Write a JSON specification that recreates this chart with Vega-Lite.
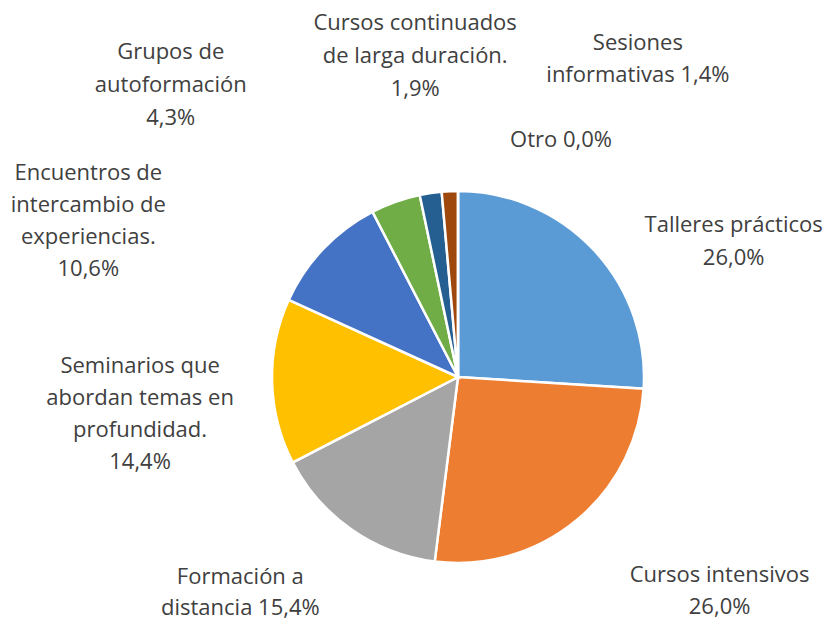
{
  "$schema": "https://vega.github.io/schema/vega-lite/v6.json",
  "autosize": "none",
  "width": 746,
  "height": 500,
  "padding": {"left": 85, "top": 127, "right": 0, "bottom": 0},
  "background": "white",
  "config": {"view": {"stroke": null}, "text": {"font": "Open Sans"}},
  "data": {
    "values": [
      {"orden": 1, "categoria": "Talleres prácticos", "valor": 26.0, "texto": "Talleres prácticos\n26,0%"},
      {"orden": 2, "categoria": "Cursos intensivos", "valor": 26.0, "texto": "Cursos intensivos\n26,0%"},
      {"orden": 3, "categoria": "Formación a distancia", "valor": 15.4, "texto": "Formación a\ndistancia  15,4%"},
      {"orden": 4, "categoria": "Seminarios que abordan temas en profundidad.", "valor": 14.4, "texto": "Seminarios que\nabordan temas en\nprofundidad.\n14,4%"},
      {"orden": 5, "categoria": "Encuentros de intercambio de experiencias.", "valor": 10.6, "texto": "Encuentros de\nintercambio de\nexperiencias.\n10,6%"},
      {"orden": 6, "categoria": "Grupos de autoformación", "valor": 4.3, "texto": "Grupos de\nautoformación\n4,3%"},
      {"orden": 7, "categoria": "Cursos continuados de larga duración.", "valor": 1.9, "texto": "Cursos continuados\nde larga duración.\n1,9%"},
      {"orden": 8, "categoria": "Sesiones informativas", "valor": 1.4, "texto": "Sesiones\ninformativas 1,4%"},
      {"orden": 9, "categoria": "Otro", "valor": 0.0, "texto": "Otro 0,0%"}
    ]
  },
  "encoding": {
    "theta": {"field": "valor", "type": "quantitative", "stack": true},
    "order": {"field": "orden", "type": "ordinal"}
  },
  "layer": [
    {
      "mark": {"type": "arc", "outerRadius": 186, "stroke": "white", "strokeWidth": 2.5},
      "encoding": {
        "color": {
          "field": "categoria",
          "type": "nominal",
          "sort": null,
          "legend": null,
          "scale": {
            "domain": ["Talleres prácticos", "Cursos intensivos", "Formación a distancia", "Seminarios que abordan temas en profundidad.", "Encuentros de intercambio de experiencias.", "Grupos de autoformación", "Cursos continuados de larga duración.", "Sesiones informativas", "Otro"],
            "range": ["#5B9BD5", "#ED7D31", "#A5A5A5", "#FFC000", "#4472C4", "#70AD47", "#255E91", "#9E480E", "#636363"]
          }
        }
      }
    },
    {
      "mark": {"type": "text", "radius": 230, "dx": 108, "dy": 5, "fontSize": 22, "color": "#404040", "lineBreak": "\n", "lineHeight": 33, "align": "center", "baseline": "middle"},
      "encoding": {"detail": {"field": "categoria"}, "text": {"condition": {"test": "datum.orden === 1", "field": "texto"}, "value": ""}}
    },
    {
      "mark": {"type": "text", "radius": 230, "dx": 115, "dy": 21, "fontSize": 22, "color": "#404040", "lineBreak": "\n", "lineHeight": 32, "align": "center", "baseline": "middle"},
      "encoding": {"detail": {"field": "categoria"}, "text": {"condition": {"test": "datum.orden === 2", "field": "texto"}, "value": ""}}
    },
    {
      "mark": {"type": "text", "radius": 230, "dx": -86, "dy": 11, "fontSize": 22, "color": "#404040", "lineBreak": "\n", "lineHeight": 31, "align": "center", "baseline": "middle"},
      "encoding": {"detail": {"field": "categoria"}, "text": {"condition": {"test": "datum.orden === 3", "field": "texto"}, "value": ""}}
    },
    {
      "mark": {"type": "text", "radius": 230, "dx": -88, "dy": -17, "fontSize": 22, "color": "#404040", "lineBreak": "\n", "lineHeight": 32, "align": "center", "baseline": "middle"},
      "encoding": {"detail": {"field": "categoria"}, "text": {"condition": {"test": "datum.orden === 4", "field": "texto"}, "value": ""}}
    },
    {
      "mark": {"type": "text", "radius": 230, "dx": -203, "dy": -46, "fontSize": 22, "color": "#404040", "lineBreak": "\n", "lineHeight": 32, "align": "center", "baseline": "middle"},
      "encoding": {"detail": {"field": "categoria"}, "text": {"condition": {"test": "datum.orden === 5", "field": "texto"}, "value": ""}}
    },
    {
      "mark": {"type": "text", "radius": 230, "dx": -210, "dy": -108, "fontSize": 22, "color": "#404040", "lineBreak": "\n", "lineHeight": 33, "align": "center", "baseline": "middle"},
      "encoding": {"detail": {"field": "categoria"}, "text": {"condition": {"test": "datum.orden === 6", "field": "texto"}, "value": ""}}
    },
    {
      "mark": {"type": "text", "radius": 230, "dx": -9, "dy": -127, "fontSize": 22, "color": "#404040", "lineBreak": "\n", "lineHeight": 33, "align": "center", "baseline": "middle"},
      "encoding": {"detail": {"field": "categoria"}, "text": {"condition": {"test": "datum.orden === 7", "field": "texto"}, "value": ""}}
    },
    {
      "mark": {"type": "text", "radius": 230, "dx": 190, "dy": -104, "fontSize": 22, "color": "#404040", "lineBreak": "\n", "lineHeight": 32, "align": "center", "baseline": "middle"},
      "encoding": {"detail": {"field": "categoria"}, "text": {"condition": {"test": "datum.orden === 8", "field": "texto"}, "value": ""}}
    },
    {
      "mark": {"type": "text", "radius": 230, "dx": 103, "dy": -7, "fontSize": 22, "color": "#404040", "lineBreak": "\n", "lineHeight": 32, "align": "center", "baseline": "middle"},
      "encoding": {"detail": {"field": "categoria"}, "text": {"condition": {"test": "datum.orden === 9", "field": "texto"}, "value": ""}}
    }
  ]
}
